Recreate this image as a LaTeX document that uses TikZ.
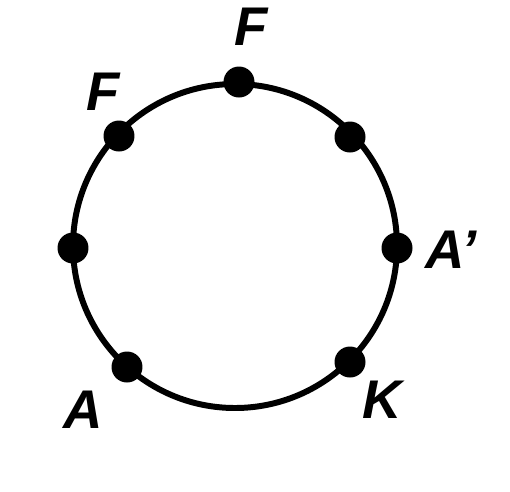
\documentclass[tikz,border=0pt]{standalone}
\usepackage{fontspec}
\setmainfont{Liberation Sans}
\usepackage{tikz}

\tikzset{
  ring/.style={line width=3.4pt},
  pin/.style={circle,fill=black,inner sep=0pt,minimum size=0.62cm},
  lab/.style={font=\fontsize{31}{34}\selectfont\bfseries\itshape,inner sep=0pt}
}

\begin{document}
\begin{tikzpicture}[x=0.02cm,y=-0.02cm]
    \useasboundingbox (0,0) rectangle (510,491);
    \coordinate (c) at (235,246);
    \draw[ring] (c) circle (162);
    % points on the ring
    \node[pin] (ptop) at (239,82) {};
    \node[pin] (pul) at (119,136) {};
    \node[pin] (pur) at (350,137) {};
    \node[pin] (pl) at (73,248) {};
    \node[pin] (pr) at (397,248) {};
    \node[pin] (pll) at (127,367) {};
    \node[pin] (plr) at (350,362) {};
    % labels
    \node[lab] (ftop) at (251,27) {F};
    \node[lab] (ful) at (103,92) {F};
    \node[lab] (aprime) at (451,250) {A\char"27};
    \node[lab] (k) at (382,400) {K};
    \node[lab] (a) at (83,410) {A};
\end{tikzpicture}
\end{document}
